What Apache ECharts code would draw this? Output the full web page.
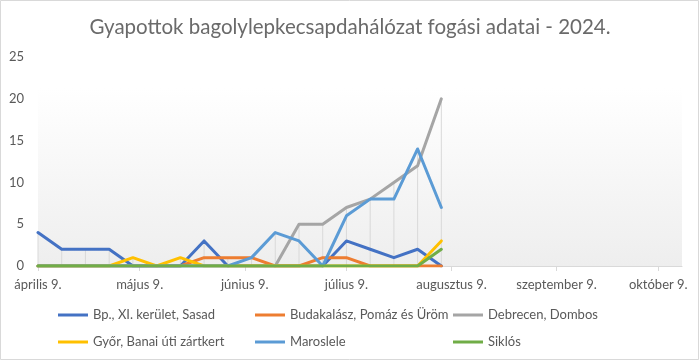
<!DOCTYPE html>
<html>
<head>
<meta charset="utf-8">
<script src="https://cdn.jsdelivr.net/npm/echarts@6/dist/echarts.min.js"></script>
<style>html,body{margin:0;padding:0;background:#fff}#c{width:700px;height:362px}</style>
</head>
<body>
<div id="c"></div>
<script>
// ---- data ----
var titleText = 'Gyapottok bagolylepkecsapdahálózat fogási adatai - 2024.';
var dates = ['2024-04-09','2024-04-16','2024-04-23','2024-04-30','2024-05-07','2024-05-14','2024-05-21','2024-05-28','2024-06-04','2024-06-11','2024-06-18','2024-06-25','2024-07-02','2024-07-09','2024-07-16','2024-07-23','2024-07-30','2024-08-06'];
var seriesNames = ['Bp., XI. kerület, Sasad','Budakalász, Pomáz és Üröm','Debrecen, Dombos','Győr, Banai úti zártkert','Maroslele','Siklós'];
var sasad      = [4,2,2,2,0,0,0,3,0,0,0,0,0,3,2,1,2,0];
var budakalasz = [0,0,0,0,0,0,0,1,1,1,0,0,1,1,0,0,0,0];
var debrecen   = [0,0,0,0,0,0,0,0,0,0,0,5,5,7,8,10,12,20];
var gyor       = [0,0,0,0,1,0,1,0,0,0,0,0,0,0,0,0,0,3];
var maroslele  = [0,0,0,0,0,0,0,0,0,1,4,3,0,6,8,8,14,7];
var siklos     = [0,0,0,0,0,0,0,0,0,0,0,0,0,0,0,0,0,2];
var tickDates  = ['2024-04-09','2024-05-09','2024-06-09','2024-07-09','2024-08-09','2024-09-09','2024-10-09'];
var tickLabels = ['április 9.','május 9.','június 9.','július 9.','augusztus 9.','szeptember 9.','október 9.'];
var axisMinDate = '2024-04-09';
var axisMaxDate = '2024-10-16';
var yTicks = [0,5,10,15,20,25];

// ---- build ----
var DAY = 86400000;
function ts(s){var p=s.split('-');return Math.round(Date.UTC(+p[0],+p[1]-1,+p[2])/DAY);}
var allValues = [sasad,budakalasz,debrecen,gyor,maroslele,siklos];
var colors = ['#4472C4','#ED7D31','#A5A5A5','#FFC000','#5B9BD5','#70AD47'];
var tickTs = tickDates.map(ts);
var labelMap = {};
tickTs.forEach(function(t,i){labelMap[t]=tickLabels[i];});
var FONT = 'Lato';
var series = [];
series.push({
  type:'bar', name:'__drop', barWidth:1, silent:true, z:1,
  itemStyle:{color:'#d9d9d9'},
  data: dates.map(function(d,i){
    var m=0; allValues.forEach(function(a){ if(a[i]>m) m=a[i]; });
    return [ts(d), m];
  })
});
allValues.forEach(function(arr,k){
  series.push({
    type:'line', name:seriesNames[k], symbol:'none', z:2+k,
    lineStyle:{width:3,color:colors[k],join:'round',cap:'round'},
    itemStyle:{color:colors[k]},
    data: dates.map(function(d,i){return [ts(d), arr[i]];})
  });
});
function legendCol(names,left){
  return {data:names,orient:'vertical',left:left,top:307,itemWidth:30,itemHeight:3,icon:'rect',itemGap:11,
    textStyle:{fontFamily:FONT,fontSize:13,color:'#595959',lineHeight:16},padding:0,selectedMode:false};
}
var chart = echarts.init(document.getElementById('c'),null,{renderer:'canvas'});
chart.setOption({
  backgroundColor:'#ffffff',
  animation:false,
  color:colors,
  title:{text:titleText,left:'center',top:12,textStyle:{fontFamily:FONT,fontSize:20.5,fontWeight:'normal',color:'#6a6a6a'}},
  legend:[
    legendCol([seriesNames[0],seriesNames[3]],58),
    legendCol([seriesNames[1],seriesNames[4]],255),
    legendCol([seriesNames[2],seriesNames[5]],453)
  ],
  grid:{left:38,right:18,top:57,bottom:96,show:true,borderWidth:0,
    backgroundColor:new echarts.graphic.LinearGradient(0,0,0,1,[{offset:0,color:'#ffffff'},{offset:0.15,color:'#ffffff'},{offset:1,color:'#eeeeee'}])},
  xAxis:{type:'value',min:ts(axisMinDate),max:ts(axisMaxDate),
    axisLine:{show:true,lineStyle:{color:'#d9d9d9',width:1}},
    axisTick:{show:true,customValues:tickTs,length:5,lineStyle:{color:'#d9d9d9'}},
    splitLine:{show:false},
    axisLabel:{customValues:tickTs,fontFamily:FONT,fontSize:13,color:'#595959',margin:12,hideOverlap:false,
      formatter:function(v){return labelMap[v]!==undefined?labelMap[v]:'';}}},
  yAxis:{type:'value',min:yTicks[0],max:yTicks[yTicks.length-1],interval:5,
    axisLine:{show:false},axisTick:{show:false},splitLine:{show:false},
    axisLabel:{fontFamily:FONT,fontSize:13,color:'#595959',margin:14}},
  graphic:[{type:'rect',shape:{x:0.5,y:0.5,width:698,height:359},style:{fill:'none',stroke:'#d9d9d9',lineWidth:1},silent:true,z:100}],
  series:series
});
</script>
</body>
</html>
